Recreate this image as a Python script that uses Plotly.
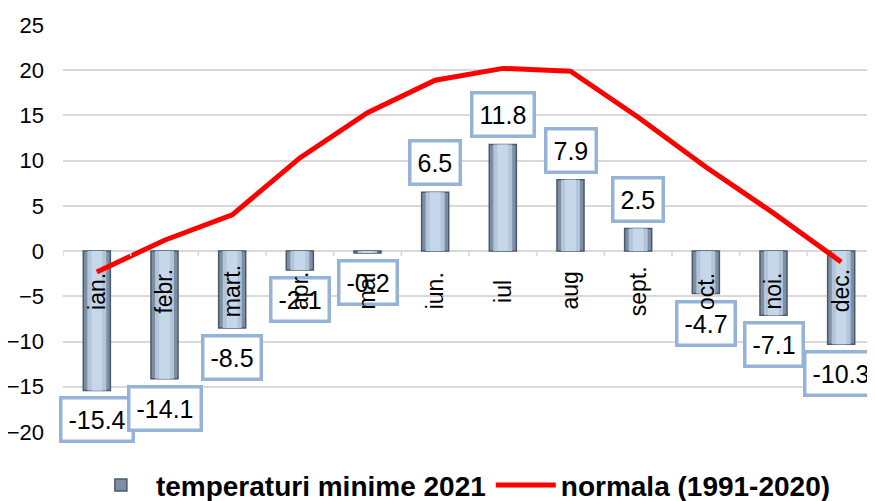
import plotly.graph_objects as go

months = ["ian.", "febr.", "mart.", "apr.", "mai", "iun.", "iul", "aug", "sept.", "oct.", "noi.", "dec."]
temp_min_2021 = [-15.4, -14.1, -8.5, -2.1, -0.2, 6.5, 11.8, 7.9, 2.5, -4.7, -7.1, -10.3]
normala = [-2.3, 1.2, 4.0, 10.3, 15.3, 18.9, 20.2, 19.9, 14.8, 9.3, 4.2, -1.2]
y_ticks = [-20, -15, -10, -5, 0, 5, 10, 15, 20, 25]

FONT = "Liberation Sans, Arial, sans-serif"
idx = list(range(len(months)))

fig = go.Figure()
# bar with bevel-like layers
fig.add_trace(go.Bar(x=idx, y=temp_min_2021, width=0.40, name="temperaturi minime 2021",
                     marker=dict(color="#7d8fa4", line=dict(color="#4a596a", width=1.5)),
                     showlegend=True, hoverinfo="skip"))
fig.add_trace(go.Bar(x=idx, y=temp_min_2021, width=0.28, marker=dict(color="#b3c5da", line=dict(width=0)),
                     showlegend=False, hoverinfo="skip"))
fig.add_trace(go.Bar(x=idx, y=temp_min_2021, width=0.16, marker=dict(color="#c6d7ea", line=dict(width=0)),
                     showlegend=False, hoverinfo="skip"))
fig.add_trace(go.Scatter(x=idx, y=normala, mode="lines", name="normala (1991-2020)",
                         line=dict(color="#ff0000", width=5)))

annotations = []
for i, v in zip(idx, temp_min_2021):
    annotations.append(dict(x=i, y=v, xref="x", yref="y", text=f"{v:.1f}", showarrow=False,
                            yanchor="bottom" if v >= 0 else "top", yshift=6 if v >= 0 else -6,
                            font=dict(family=FONT, size=25, color="black"),
                            bgcolor="white", bordercolor="#95b3d7", borderwidth=3.5, borderpad=6))
for i, m in zip(idx, months):
    annotations.append(dict(x=i, y=0, xref="x", yref="y", text=m, showarrow=False, textangle=-90,
                            xanchor="center", yanchor="middle", yshift=-40,
                            font=dict(family=FONT, size=23, color="black")))

shapes = []
for i in range(len(months) + 1):
    shapes.append(dict(type="line", xref="x", yref="y", x0=i - 0.5, x1=i - 0.5, ysizemode="pixel",
                       yanchor=0, y0=0, y1=-5, line=dict(color="#d9d9d9", width=1.5)))

fig.update_layout(
    width=867, height=493,
    margin=dict(l=55, r=0, t=17, b=69, autoexpand=False),
    barmode="overlay",
    plot_bgcolor="white", paper_bgcolor="white",
    font=dict(family=FONT, size=20, color="black"),
    annotations=annotations,
    shapes=shapes,
    legend=dict(orientation="h", x=0.49, xanchor="center", yref="container", y=0.032, yanchor="middle",
                font=dict(family=FONT, size=28, color="black", weight="bold"),
                itemwidth=60, traceorder="normal"),
)
fig.update_xaxes(range=[-0.5, len(months) - 0.5], showticklabels=False, showgrid=False,
                 zeroline=False, showline=False, ticks="")
fig.update_yaxes(range=[-20, 25], tickvals=y_ticks, showgrid=True, gridcolor="#d9d9d9", gridwidth=1.5,
                 zeroline=True, zerolinecolor="#d9d9d9", zerolinewidth=1.5, showline=False,
                 ticks="", ticklabelstandoff=18, tickfont=dict(family=FONT, size=22, color="black"))

fig.write_html("out.html")
